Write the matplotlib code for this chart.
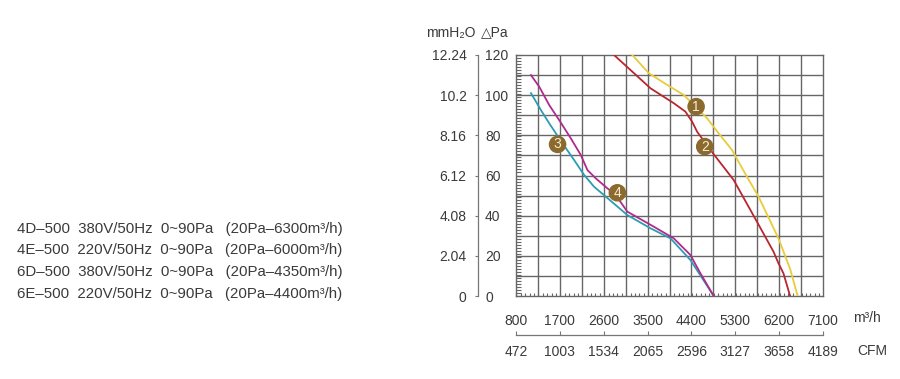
import matplotlib
matplotlib.use('Agg')
import matplotlib.pyplot as plt
import numpy as np
from matplotlib.ticker import MultipleLocator, FixedLocator

FONT = ['Liberation Sans', 'DejaVu Sans']
plt.rcParams['font.family'] = FONT
TXT = '#3a3a3a'

# ---------------- data ----------------
flow_1 = [3187, 3527, 3903, 4243, 4584, 4721, 4959, 5232, 5539, 5777, 6186, 6425, 6580]
pa_1 = [120, 110.9, 105.1, 100.1, 91.8, 88.5, 81, 72.7, 59.4, 49.5, 28.7, 13.5, 0]

flow_2 = [2811, 3187, 3561, 4038, 4277, 4414, 4517, 4857, 5266, 5744, 6084, 6186, 6288, 6425]
pa_2 = [120, 111.7, 103.4, 96, 91.8, 86.8, 81.8, 70.6, 57.8, 37, 22.1, 16.3, 11.3, 0]

flow_3 = [1107, 1311, 1481, 1755, 1993, 2197, 2402, 2641, 3085, 3561, 3970, 4380, 4857]
pa_3 = [101, 92.6, 86, 76, 67.7, 60.3, 54.4, 49.5, 40.3, 33.7, 28.7, 17.9, 0]

flow_4 = [1107, 1277, 1481, 1686, 1925, 2130, 2266, 2436, 2676, 2845, 3085, 3629, 4038, 4380, 4584, 4857]
pa_4 = [110, 104.2, 95.1, 87.6, 78.5, 70.2, 62.7, 58.6, 53.6, 50.3, 42, 34.5, 28.7, 20.4, 11.3, 0]

curve_colors = ['#e9cc3a', '#b8262e', '#2a9db3', '#b02a8c']

marker_numbers = ['1', '2', '3', '4']
marker_flow = [4496, 4673, 1653, 2880]
marker_pa = [94.3, 74.4, 75.5, 51.4]

flow_ticks = [800, 1700, 2600, 3500, 4400, 5300, 6200, 7100]
cfm_labels = ['472', '1003', '1534', '2065', '2596', '3127', '3658', '4189']
pa_ticks = [0, 20, 40, 60, 80, 100, 120]
mm_labels = ['0', '2.04', '4.08', '6.12', '8.16', '10.2', '12.24']

legend_lines = [
    '4D\u2013500  380V/50Hz  0~90Pa   (20Pa\u20136300m\u00b3/h)',
    '4E\u2013500  220V/50Hz  0~90Pa   (20Pa\u20136000m\u00b3/h)',
    '6D\u2013500  380V/50Hz  0~90Pa   (20Pa\u20134350m\u00b3/h)',
    '6E\u2013500  220V/50Hz  0~90Pa   (20Pa\u20134400m\u00b3/h)',
]

# ---------------- figure ----------------
W, H = 900, 379
fig = plt.figure(figsize=(W / 100, H / 100), dpi=100)

def fx(px):
    return px / W

def fy(py):
    return 1 - py / H

L, R, T, B = 516, 823, 55, 296
ax = fig.add_axes([fx(L), fy(B), fx(R - L), (B - T) / H])
ax.set_xlim(800, 7100)
ax.set_ylim(0, 120)

GRID = '#666666'
for v in np.arange(800 + 450, 7100, 450):
    ax.axvline(v, color=GRID, lw=1.0, zorder=1)
for h in range(10, 120, 10):
    ax.axhline(h, color=GRID, lw=1.0, zorder=1)
for s in ax.spines.values():
    s.set_color(GRID)
    s.set_linewidth(1.0)

series = [(flow_1, pa_1), (flow_2, pa_2), (flow_3, pa_3), (flow_4, pa_4)]
for (fl, pa), c in zip(series, curve_colors):
    ax.plot(fl, pa, color=c, lw=1.3, zorder=3, solid_joinstyle='round')

ax.scatter(marker_flow, marker_pa, s=160, color='#8c6a2e', zorder=5, edgecolors='none')
for n, xq, yp in zip(marker_numbers, marker_flow, marker_pa):
    ax.text(xq, yp, n, color='#f3ecd9', fontsize=10, ha='center', va='center', zorder=6)

# x axis (m3/h)
ax.xaxis.set_major_locator(FixedLocator(flow_ticks))
ax.set_xticklabels([str(v) for v in flow_ticks])
ax.xaxis.set_minor_locator(MultipleLocator(90))
ax.set_yticks([])
ax.yaxis.set_minor_locator(MultipleLocator(1.5))
ax.tick_params(axis='x', which='major', length=0, pad=13, labelsize=10, labelcolor=TXT)
ax.tick_params(axis='x', which='minor', direction='in', length=2.5, color=GRID, width=0.8, top=False)
ax.tick_params(axis='y', which='minor', direction='in', length=3.5, color=GRID, width=0.8, right=False)
fig.text(fx(853), fy(318), 'm\u00b3/h', fontsize=10, color=TXT, ha='left', va='center')

# CFM axis
axc = fig.add_axes([fx(L), fy(335), fx(R - L), 0.0001])
axc.set_xlim(800, 7100)
axc.set_ylim(0, 1)
for k in ['left', 'right', 'top']:
    axc.spines[k].set_visible(False)
axc.spines['bottom'].set_color('#777777')
axc.spines['bottom'].set_linewidth(0.9)
axc.set_yticks([])
axc.xaxis.set_major_locator(FixedLocator(flow_ticks))
axc.set_xticklabels(cfm_labels)
axc.tick_params(axis='x', direction='in', length=3, color='#777777', width=0.8, pad=7,
                labelsize=10, labelcolor=TXT)
axc.patch.set_visible(False)
fig.text(fx(857), fy(351), 'CFM', fontsize=10, color=TXT, ha='left', va='center')

# Pressure axes (mmH2O / Pa)
axp = fig.add_axes([fx(478), fy(B), 0.0001, (B - T) / H])
axp.set_ylim(0, 120)
axp.set_xticks([])
for k in ['right', 'top', 'bottom']:
    axp.spines[k].set_visible(False)
axp.spines['left'].set_color('#777777')
axp.spines['left'].set_linewidth(0.9)
axp.patch.set_visible(False)
axp.yaxis.set_major_locator(FixedLocator(pa_ticks))
axp.set_yticklabels(mm_labels)
axp.tick_params(axis='y', direction='out', length=2.2, color='#777777', width=0.8, pad=6,
                labelsize=10, labelcolor=TXT)
axp2 = axp.secondary_yaxis('right')
axp2.spines['right'].set_visible(False)
axp2.yaxis.set_major_locator(FixedLocator(pa_ticks))
axp2.set_yticklabels([str(v) for v in pa_ticks])
axp2.tick_params(axis='y', length=0, pad=5, labelsize=10, labelcolor=TXT)

fig.text(fx(426), fy(32.5), 'mmH\u2082O', fontsize=10, color=TXT, ha='left', va='center',
         family=FONT)
fig.text(fx(481), fy(32.5), '\u25b3Pa', fontsize=10, color=TXT, ha='left', va='center',
         family=FONT)

# legend text
for i, line in enumerate(legend_lines):
    fig.text(fx(17), fy(228.5 + i * 21.7), line, fontsize=10.8, color=TXT, ha='left', va='center',
             family=FONT)

fig.savefig('out.png', dpi=100)
